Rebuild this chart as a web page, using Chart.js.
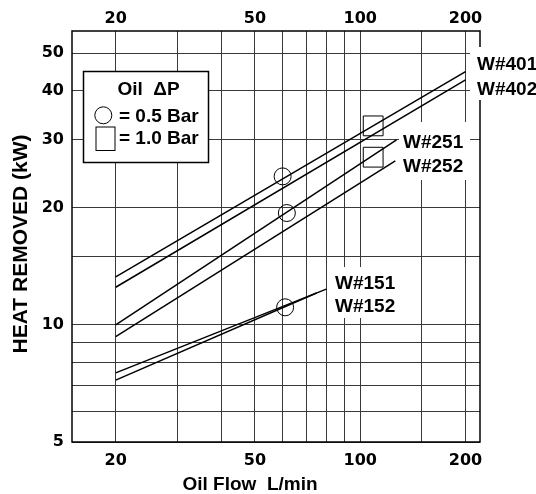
<!DOCTYPE html>
<html>
<head>
<meta charset="utf-8">
<script src="https://cdn.jsdelivr.net/npm/chart.js@4.4.1/dist/chart.umd.min.js"></script>
<style>
  html, body { margin: 0; padding: 0; background: #fff; }
</style>
</head>
<body>
<canvas id="chart" width="536" height="494"></canvas>
<script>
// endpoints of each curve (straight on log-log paper)
const flow401 = [20, 200];
const heat401 = [13.3, 44.8];
const flow402 = [20, 200];
const heat402 = [12.5, 42.7];
const flow251 = [20, 127];
const heat251 = [10.0, 29.9];
const flow252 = [20, 126];
const heat252 = [9.33, 26.4];
const flow151 = [20, 80];
const heat151 = [7.53, 12.36];
const flow152 = [20, 75];
const heat152 = [7.21, 12.08];

// pressure drop markers
const circleFlow = [60, 61.7, 61];
const circleHeat = [24.1, 19.4, 11.1];
const squareFlow = [108.9, 108.9];
const squareHeat = [32.5, 27.0];

const xGrid = [20, 30, 40, 50, 60, 70, 80, 90, 100, 150, 200];
const xLabels = [20, 50, 100, 200];
const yGrid = [5, 6, 7, 8, 9, 10, 15, 20, 30, 40, 50];
const yLabels = [5, 10, 20, 30, 40, 50];

const curveNames = ['W#401', 'W#402', 'W#251', 'W#252', 'W#151', 'W#152'];

const tickFont = { family: 'DejaVu Sans', size: 16, weight: 'bold' };
const gridColor = '#3a3a3a';

function toPoints(flow, heat) {
  return flow.map((f, i) => ({ x: f, y: heat[i] }));
}

function curve(flow, heat) {
  return {
    data: toPoints(flow, heat),
    showLine: true,
    borderColor: '#000',
    borderWidth: 1.5,
    pointRadius: 0,
    fill: false
  };
}

// where the curve names sit, and the white patches under them
const namePos = [[477, 70], [477, 95], [403, 148], [403, 171.5], [335, 289], [335, 312]];
const namePatches = [[470, 47, 66, 53], [399, 122, 71, 58], [329, 267, 72, 51]];

const paper = {
  id: 'paper',
  beforeDatasetsDraw(chart) {
    const { ctx, chartArea: a } = chart;
    ctx.save();
    ctx.strokeStyle = '#000';
    ctx.lineWidth = 1.5;
    ctx.strokeRect(a.left, a.top, a.right - a.left, a.bottom - a.top);

    ctx.fillStyle = '#fff';
    namePatches.forEach(p => ctx.fillRect(p[0], p[1], p[2], p[3]));

    // legend box
    ctx.fillRect(83.5, 71.5, 125, 91);
    ctx.strokeRect(83.5, 71.5, 125, 91);
    ctx.fillStyle = '#000';
    ctx.font = 'bold 19px "Liberation Sans", Arial, sans-serif';
    ctx.textAlign = 'center';
    ctx.fillText('Oil  \u0394P', 148.5, 95);
    ctx.textAlign = 'left';
    ctx.fillText('= 0.5 Bar', 119, 121.5);
    ctx.fillText('= 1.0 Bar', 119, 143.5);
    ctx.lineWidth = 1;
    ctx.beginPath();
    ctx.arc(103.3, 115.3, 8.5, 0, Math.PI * 2);
    ctx.stroke();
    ctx.strokeRect(96, 127, 19, 23.5);
    ctx.restore();
  },
  afterDatasetsDraw(chart) {
    const { ctx } = chart;
    ctx.save();
    ctx.fillStyle = '#000';
    ctx.font = 'bold 19px "Liberation Sans", Arial, sans-serif';
    ctx.textAlign = 'left';
    curveNames.forEach((n, i) => ctx.fillText(n, namePos[i][0], namePos[i][1]));

    ctx.textAlign = 'center';
    ctx.fillText('Oil Flow  L/min', 250, 490);

    ctx.font = 'bold 21px "Liberation Sans", Arial, sans-serif';
    ctx.translate(27, 244);
    ctx.rotate(-Math.PI / 2);
    ctx.fillText('HEAT REMOVED (kW)', 0, 0);
    ctx.restore();
  }
};

new Chart(document.getElementById('chart'), {
  type: 'scatter',
  data: {
    datasets: [
      curve(flow401, heat401),
      curve(flow402, heat402),
      curve(flow251, heat251),
      curve(flow252, heat252),
      curve(flow151, heat151),
      curve(flow152, heat152),
      {
        data: toPoints(circleFlow, circleHeat),
        pointStyle: 'circle',
        pointRadius: 8.5,
        borderColor: '#000',
        borderWidth: 1,
        backgroundColor: 'rgba(0,0,0,0)'
      },
      {
        data: toPoints(squareFlow, squareHeat),
        pointStyle: 'rect',
        pointRadius: 14,
        borderColor: '#000',
        borderWidth: 1,
        backgroundColor: 'rgba(0,0,0,0)'
      }
    ]
  },
  options: {
    responsive: false,
    animation: false,
    devicePixelRatio: 1,
    layout: { padding: { right: 56 } },
    plugins: { legend: { display: false }, tooltip: { enabled: false } },
    scales: {
      x: {
        type: 'logarithmic',
        position: 'bottom',
        min: 15,
        max: 220,
        afterBuildTicks: s => { s.ticks = xGrid.map(v => ({ value: v })); },
        afterFit: s => { s.height = 52; },
        ticks: {
          callback: v => xLabels.includes(v) ? String(v) : '',
          font: tickFont, color: '#000', padding: 9,
          autoSkip: false, maxRotation: 0
        },
        grid: { color: gridColor, lineWidth: 1, drawTicks: false },
        border: { display: false }
      },
      xTop: {
        type: 'logarithmic',
        position: 'top',
        min: 15,
        max: 220,
        afterBuildTicks: s => { s.ticks = xGrid.map(v => ({ value: v })); },
        afterFit: s => { s.height = 31; },
        ticks: {
          callback: v => xLabels.includes(v) ? String(v) : '',
          font: tickFont, color: '#000', padding: 3,
          autoSkip: false, maxRotation: 0
        },
        grid: { display: false, drawTicks: false },
        border: { display: false }
      },
      y: {
        type: 'logarithmic',
        min: 5,
        max: 57,
        afterBuildTicks: s => { s.ticks = yGrid.map(v => ({ value: v })); },
        afterFit: s => { s.width = 72; },
        ticks: {
          callback: v => yLabels.includes(v) ? String(v) : '',
          font: tickFont, color: '#000', padding: 8,
          autoSkip: false
        },
        grid: { color: gridColor, lineWidth: 1, drawTicks: false },
        border: { display: false }
      }
    }
  },
  plugins: [paper]
});
</script>
</body>
</html>
